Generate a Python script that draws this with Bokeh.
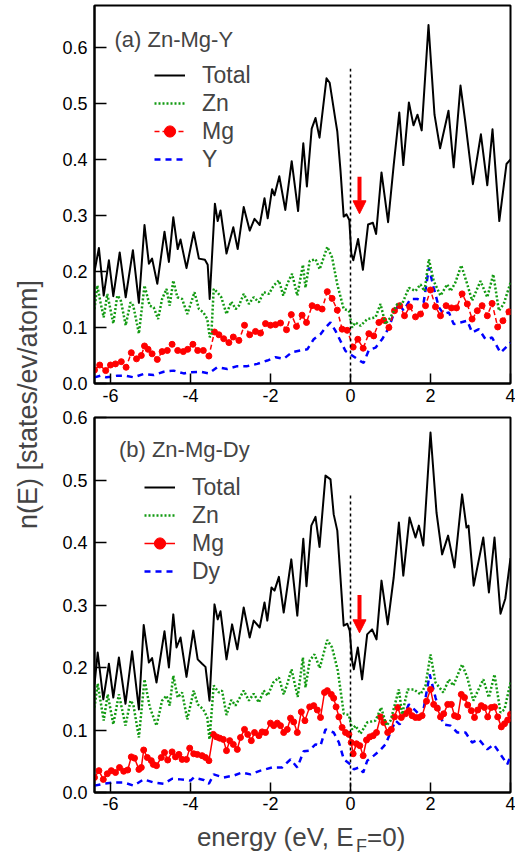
import math
from bokeh.plotting import figure
from bokeh.models import (Range1d, FixedTicker, PrintfTickFormatter, Legend, LegendItem,
                          Label, Arrow, NormalHead)
from bokeh.layouts import row, column
from bokeh.embed import file_html
from bokeh.resources import INLINE

FONT = "Liberation Sans"

# ---------------- data: panel (a) Zn-Mg-Y ----------------
tot_a_e = [-6.40,-6.29,-6.17,-6.04,-5.93,-5.77,-5.62,-5.44,-5.29,-5.15,-5.04,-4.96,-4.83,-4.65,-4.54,-4.43,-4.32,-4.25,-4.10,-3.92,
           -3.79,-3.64,-3.57,-3.52,-3.39,-3.32,-3.25,-3.10,-2.93,-2.82,-2.67,-2.52,-2.40,-2.27,-2.15,-2.07,-1.96,-1.90,-1.78,-1.63,
           -1.47,-1.31,-1.18,-1.09,-0.97,-0.875,-0.775,-0.60,-0.52,-0.375,-0.33,-0.25,-0.17,-0.10,-0.03,0.02,0.07,0.19,0.31,0.44,
           0.56,0.64,0.775,0.94,1.08,1.22,1.32,1.46,1.575,1.675,1.78,1.95,2.10,2.24,2.45,2.58,2.75,2.87,3.06,3.26,
           3.42,3.55,3.72,3.90,4.00]
tot_a_v = [0.200,0.242,0.157,0.220,0.156,0.234,0.154,0.238,0.144,0.283,0.214,0.223,0.178,0.271,0.217,0.297,0.240,0.257,0.206,0.270,
           0.223,0.221,0.212,0.151,0.321,0.290,0.309,0.232,0.279,0.240,0.315,0.273,0.294,0.283,0.331,0.295,0.347,0.336,0.370,0.310,
           0.397,0.308,0.429,0.352,0.455,0.474,0.439,0.545,0.537,0.470,0.450,0.380,0.298,0.302,0.292,0.232,0.220,0.258,0.203,0.284,
           0.287,0.267,0.377,0.288,0.390,0.484,0.390,0.502,0.461,0.480,0.452,0.640,0.480,0.420,0.487,0.386,0.532,0.467,0.356,0.445,
           0.354,0.454,0.290,0.392,0.400]

zn_a_e = [-6.40,-6.33,-6.25,-6.17,-6.08,-5.93,-5.83,-5.75,-5.62,-5.50,-5.43,-5.29,-5.15,-5.02,-4.92,-4.81,-4.71,-4.60,-4.52,-4.43,
          -4.33,-4.21,-4.08,-3.90,-3.79,-3.68,-3.58,-3.52,-3.48,-3.42,-3.33,-3.23,-3.10,-2.98,-2.87,-2.79,-2.67,-2.54,-2.42,-2.29,
          -2.17,-2.04,-1.92,-1.79,-1.68,-1.58,-1.46,-1.33,-1.19,-1.125,-1.02,-0.875,-0.77,-0.58,-0.46,-0.33,-0.17,-0.04,0.04,0.125,
          0.25,0.42,0.625,0.75,0.875,1.00,1.17,1.29,1.46,1.625,1.75,1.85,1.96,2.08,2.25,2.42,2.50,2.62,2.77,2.92,
          3.04,3.25,3.42,3.57,3.71,3.83,4.00]
zn_a_v = [0.133,0.175,0.145,0.118,0.160,0.107,0.157,0.151,0.104,0.145,0.139,0.089,0.175,0.139,0.136,0.115,0.151,0.169,0.139,0.184,
          0.154,0.151,0.124,0.163,0.133,0.127,0.115,0.083,0.086,0.169,0.163,0.154,0.124,0.146,0.133,0.139,0.160,0.142,0.154,0.145,
          0.163,0.160,0.175,0.184,0.157,0.178,0.196,0.157,0.212,0.171,0.219,0.222,0.204,0.244,0.225,0.177,0.133,0.130,0.100,0.109,
          0.103,0.115,0.118,0.142,0.106,0.118,0.142,0.142,0.171,0.165,0.177,0.165,0.222,0.183,0.157,0.177,0.165,0.180,0.211,0.177,
          0.148,0.183,0.154,0.195,0.130,0.142,0.180]

mg_a_e = [-6.40,-6.27,-6.12,-6.00,-5.875,-5.73,-5.61,-5.48,-5.35,-5.23,-5.15,-5.06,-4.96,-4.83,-4.71,-4.58,-4.46,-4.32,-4.18,-4.07,
          -3.94,-3.82,-3.68,-3.54,-3.40,-3.29,-3.17,-3.04,-2.93,-2.79,-2.65,-2.52,-2.375,-2.25,-2.125,-2.00,-1.875,-1.75,-1.60,-1.48,
          -1.35,-1.21,-1.10,-0.96,-0.83,-0.71,-0.58,-0.46,-0.33,-0.21,-0.083,0.067,0.183,0.317,0.458,0.58,0.71,0.83,0.96,1.10,
          1.23,1.35,1.48,1.625,1.75,1.875,2.00,2.125,2.25,2.39,2.525,2.65,2.79,2.92,3.04,3.17,3.29,3.42,3.54,3.68,
          3.81,3.96]
mg_a_v = [0.024,0.033,0.023,0.033,0.035,0.039,0.029,0.055,0.044,0.050,0.067,0.061,0.053,0.043,0.057,0.059,0.070,0.059,0.057,0.061,
          0.070,0.059,0.059,0.049,0.092,0.087,0.080,0.073,0.083,0.077,0.104,0.087,0.093,0.090,0.107,0.104,0.105,0.108,0.096,0.123,
          0.102,0.122,0.109,0.139,0.136,0.133,0.164,0.152,0.131,0.097,0.095,0.065,0.079,0.063,0.089,0.085,0.109,0.113,0.100,0.130,
          0.139,0.121,0.137,0.119,0.124,0.139,0.167,0.137,0.121,0.139,0.135,0.135,0.160,0.142,0.115,0.130,0.139,0.121,0.143,0.101,
          0.112,0.128]

y_a_e = [-6.40,-6.25,-6.10,-5.83,-5.62,-5.42,-5.17,-4.92,-4.67,-4.42,-4.17,-4.00,-3.75,-3.54,-3.33,-3.08,-2.83,-2.58,-2.33,-2.08,
         -1.875,-1.67,-1.46,-1.25,-1.08,-0.92,-0.75,-0.625,-0.50,-0.375,-0.25,-0.125,0.00,0.125,0.25,0.33,0.46,0.625,0.79,0.96,
         1.08,1.21,1.33,1.50,1.67,1.83,1.96,2.08,2.21,2.33,2.46,2.58,2.75,2.92,3.04,3.21,3.375,3.54,3.75,3.92,
         4.00]
y_a_v = [0.011,0.014,0.011,0.014,0.014,0.011,0.017,0.015,0.021,0.023,0.018,0.020,0.021,0.018,0.029,0.026,0.031,0.031,0.035,0.041,
         0.047,0.044,0.056,0.059,0.061,0.079,0.088,0.100,0.109,0.094,0.076,0.058,0.052,0.046,0.040,0.037,0.060,0.064,0.079,0.100,
         0.124,0.142,0.130,0.151,0.151,0.145,0.207,0.171,0.136,0.124,0.127,0.106,0.109,0.112,0.091,0.097,0.079,0.082,0.055,0.067,
         0.073]

# ---------------- data: panel (b) Zn-Mg-Dy ----------------
tot_b_e = [-6.40,-6.32,-6.18,-6.04,-5.93,-5.79,-5.625,-5.46,-5.29,-5.17,-5.04,-4.96,-4.85,-4.65,-4.54,-4.43,-4.35,-4.25,-4.10,-3.93,
           -3.82,-3.71,-3.625,-3.525,-3.40,-3.32,-3.25,-3.10,-2.96,-2.83,-2.67,-2.52,-2.42,-2.27,-2.15,-2.08,-1.975,-1.90,-1.79,-1.67,
           -1.48,-1.33,-1.18,-1.10,-0.98,-0.875,-0.775,-0.625,-0.50,-0.42,-0.33,-0.17,-0.08,-0.02,0.04,0.083,0.183,0.29,0.417,0.54,
           0.65,0.775,0.93,1.08,1.21,1.32,1.475,1.625,1.71,1.82,2.00,2.15,2.29,2.44,2.60,2.79,2.90,2.95,3.08,3.32,
           3.46,3.60,3.75,3.87,4.00]
tot_b_v = [0.173,0.224,0.149,0.206,0.152,0.216,0.142,0.226,0.133,0.268,0.208,0.215,0.176,0.258,0.200,0.285,0.232,0.248,0.185,0.259,
           0.213,0.206,0.201,0.147,0.301,0.277,0.290,0.213,0.269,0.229,0.296,0.248,0.275,0.264,0.304,0.275,0.328,0.323,0.345,0.288,
           0.373,0.283,0.406,0.330,0.427,0.441,0.393,0.507,0.501,0.445,0.419,0.267,0.270,0.259,0.211,0.197,0.232,0.181,0.253,0.261,
           0.245,0.339,0.269,0.344,0.432,0.347,0.440,0.408,0.427,0.395,0.576,0.448,0.381,0.411,0.360,0.477,0.424,0.427,0.331,0.408,
           0.320,0.408,0.286,0.310,0.375]

zn_b_e = [-6.40,-6.32,-6.17,-6.07,-5.93,-5.79,-5.625,-5.50,-5.43,-5.29,-5.15,-5.02,-4.85,-4.71,-4.60,-4.52,-4.43,-4.32,-4.21,-4.08,
          -3.92,-3.82,-3.68,-3.58,-3.525,-3.42,-3.29,-3.21,-3.10,-2.98,-2.875,-2.67,-2.54,-2.42,-2.29,-2.17,-2.07,-1.93,-1.79,-1.67,
          -1.58,-1.475,-1.32,-1.19,-1.125,-1.02,-0.90,-0.77,-0.583,-0.46,-0.317,-0.167,-0.04,0.04,0.125,0.25,0.417,0.625,0.767,0.90,
          1.00,1.21,1.29,1.43,1.58,1.75,1.875,2.00,2.125,2.32,2.46,2.57,2.79,2.92,3.07,3.32,3.46,3.60,3.75,3.85,
          4.00]
zn_b_v = [0.136,0.174,0.115,0.157,0.109,0.157,0.107,0.147,0.141,0.088,0.181,0.137,0.107,0.147,0.155,0.139,0.187,0.152,0.160,0.117,
          0.163,0.141,0.133,0.120,0.085,0.171,0.160,0.163,0.124,0.148,0.139,0.163,0.147,0.158,0.144,0.163,0.155,0.176,0.184,0.157,
          0.174,0.197,0.153,0.216,0.168,0.211,0.221,0.199,0.244,0.232,0.195,0.126,0.124,0.101,0.107,0.094,0.112,0.115,0.136,0.107,
          0.115,0.165,0.125,0.165,0.165,0.157,0.171,0.221,0.176,0.160,0.181,0.171,0.205,0.184,0.147,0.181,0.152,0.189,0.128,0.133,
          0.176]

mg_b_e = [-6.40,-6.29,-6.18,-6.08,-5.98,-5.875,-5.775,-5.67,-5.57,-5.48,-5.40,-5.29,-5.23,-5.17,-5.08,-4.98,-4.93,-4.85,-4.73,-4.65,
          -4.57,-4.46,-4.375,-4.29,-4.21,-4.10,-4.02,-3.92,-3.83,-3.71,-3.625,-3.54,-3.43,-3.35,-3.27,-3.18,-3.10,-3.02,-2.93,-2.83,
          -2.75,-2.65,-2.57,-2.48,-2.40,-2.29,-2.21,-2.125,-2.00,-1.92,-1.83,-1.75,-1.67,-1.58,-1.50,-1.42,-1.33,-1.23,-1.14,-1.02,
          -0.92,-0.83,-0.75,-0.65,-0.58,-0.48,-0.42,-0.36,-0.29,-0.21,-0.125,-0.04,0.017,0.067,0.15,0.233,0.317,0.40,0.483,0.567,
          0.65,0.75,0.83,0.93,1.02,1.10,1.18,1.27,1.375,1.46,1.54,1.625,1.71,1.79,1.90,2.00,2.08,2.17,2.25,2.33,
          2.43,2.52,2.60,2.68,2.77,2.85,2.93,3.02,3.10,3.18,3.27,3.35,3.43,3.52,3.60,3.68,3.77,3.85,3.93,4.00]
mg_b_v = [0.024,0.035,0.021,0.030,0.035,0.032,0.040,0.034,0.036,0.057,0.055,0.037,0.040,0.068,0.056,0.051,0.045,0.043,0.056,0.064,
          0.052,0.065,0.057,0.061,0.053,0.053,0.071,0.062,0.061,0.059,0.056,0.051,0.093,0.089,0.087,0.085,0.067,0.083,0.077,0.069,
          0.088,0.101,0.093,0.083,0.096,0.091,0.097,0.096,0.111,0.107,0.111,0.107,0.096,0.101,0.119,0.113,0.096,0.129,0.115,0.137,
          0.139,0.132,0.120,0.160,0.163,0.157,0.151,0.137,0.121,0.104,0.096,0.093,0.080,0.062,0.078,0.075,0.059,0.084,0.089,0.091,
          0.096,0.121,0.112,0.096,0.101,0.121,0.136,0.120,0.126,0.131,0.123,0.120,0.120,0.123,0.146,0.165,0.141,0.135,0.121,0.126,
          0.141,0.141,0.123,0.121,0.157,0.152,0.140,0.131,0.120,0.132,0.139,0.136,0.121,0.136,0.137,0.121,0.105,0.110,0.116,0.125]

dy_b_e = [-6.40,-6.17,-5.92,-5.67,-5.42,-5.17,-4.92,-4.67,-4.46,-4.25,-4.00,-3.92,-3.67,-3.54,-3.42,-3.17,-2.92,-2.71,-2.50,-2.25,
          -1.96,-1.71,-1.50,-1.33,-1.17,-1.04,-0.875,-0.75,-0.625,-0.42,-0.29,-0.167,0.00,0.083,0.21,0.317,0.42,0.583,0.73,0.875,
          1.00,1.125,1.23,1.46,1.625,1.79,1.98,2.125,2.32,2.50,2.67,2.875,3.04,3.21,3.42,3.58,3.75,3.92,4.00]
dy_b_v = [0.011,0.014,0.016,0.016,0.011,0.021,0.016,0.014,0.022,0.021,0.019,0.024,0.020,0.014,0.029,0.024,0.027,0.032,0.029,0.035,
          0.040,0.040,0.053,0.040,0.066,0.067,0.077,0.075,0.101,0.096,0.080,0.053,0.045,0.037,0.040,0.032,0.051,0.059,0.067,0.077,
          0.096,0.115,0.109,0.141,0.131,0.120,0.189,0.152,0.109,0.107,0.096,0.096,0.080,0.085,0.069,0.077,0.061,0.045,0.059]

# ticks / ranges / annotations
x_ticks = [-6, -4, -2, 0, 2, 4]
y_ticks = [0.0, 0.1, 0.2, 0.3, 0.4, 0.5, 0.6]
x_min, x_max = -6.4, 4.0
fermi_e = 0.0
fermi_top_a, fermi_top_b = 0.562, 0.48
arrow_e = 0.225
arrow_a = (0.369, 0.303)
arrow_b = (0.316, 0.2555)

YLAB_W = 44
PANEL_W = 515 - YLAB_W
MB_L, MB_R = 50, 5


def style_axes(p, x_standoff):
    p.xgrid.visible = False
    p.ygrid.visible = False
    p.outline_line_color = "black"
    p.outline_line_width = 2
    p.outline_line_alpha = 1
    p.background_fill_color = "white"
    p.border_fill_color = "white"
    p.xaxis.ticker = FixedTicker(ticks=x_ticks)
    p.yaxis.ticker = FixedTicker(ticks=y_ticks)
    p.xaxis.formatter = PrintfTickFormatter(format="%d")
    p.yaxis.formatter = PrintfTickFormatter(format="%.1f")
    for ax in (p.xaxis[0], p.yaxis[0]):
        ax.axis_line_width = 2
        ax.axis_line_color = "black"
        ax.major_tick_line_width = 1.5
        ax.major_tick_line_color = "black"
        ax.major_tick_out = 0
        ax.minor_tick_line_color = None
        ax.major_label_text_font = FONT
        ax.major_label_text_font_size = "18px"
        ax.major_label_text_color = "black"
    p.xaxis.major_label_standoff = x_standoff
    p.yaxis.major_label_standoff = 7
    p.xaxis.major_tick_in = 10
    p.yaxis.major_tick_in = 12


def make_panel(height, ymax, mbt, mbb, x_standoff, tot, zn, mg, re, re_name, mg_dash,
               title, title_xy, legend_loc, fermi_top, arrow_y):
    p = figure(width=PANEL_W, height=height, x_range=Range1d(x_min, x_max), y_range=Range1d(0, ymax),
               output_backend="svg", toolbar_location=None,
               min_border_left=MB_L, min_border_right=MB_R, min_border_top=mbt, min_border_bottom=mbb)
    style_axes(p, x_standoff)

    r_re = p.line(re[0], re[1], line_color="blue", line_width=2.5, line_dash="6 5")
    r_mgl = p.line(mg[0], mg[1], line_color="red", line_width=1.5, line_dash=mg_dash)
    r_mgs = p.scatter(mg[0], mg[1], size=6, color="red")
    r_zn = p.line(zn[0], zn[1], line_color="#129a12", line_width=2.5, line_dash="2 2")
    r_tot = p.line(tot[0], tot[1], line_color="black", line_width=2, line_join="round")

    p.segment(x0=[fermi_e], y0=[0], x1=[fermi_e], y1=[fermi_top],
              line_color="black", line_width=1.5, line_dash="3 3")

    p.add_layout(Arrow(end=NormalHead(size=13, fill_color="red", line_color="red"),
                       x_start=arrow_e, y_start=arrow_y[0], x_end=arrow_e, y_end=arrow_y[1],
                       line_color="red", line_width=4))

    legend = Legend(items=[LegendItem(label="Total", renderers=[r_tot]),
                           LegendItem(label="Zn", renderers=[r_zn]),
                           LegendItem(label="Mg", renderers=[r_mgl, r_mgs]),
                           LegendItem(label=re_name, renderers=[r_re])],
                    location=legend_loc, glyph_width=31, glyph_height=28, spacing=0,
                    padding=0, margin=0, label_standoff=17,
                    label_text_font=FONT, label_text_font_size="23px",
                    border_line_color=None, background_fill_alpha=0)
    p.add_layout(legend)

    p.add_layout(Label(x=title_xy[0], y=title_xy[1], text=title, text_font=FONT,
                       text_font_size="22px", text_baseline="middle", text_align="left"))
    return p


top = make_panel(409, 0.675, 5, 26, 5, (tot_a_e, tot_a_v), (zn_a_e, zn_a_v), (mg_a_e, mg_a_v),
                 (y_a_e, y_a_v), "Y", "5 3", "(a) Zn-Mg-Y", (-5.9, 0.614), (60, 210),
                 fermi_top_a, arrow_a)
bottom = make_panel(408, 0.6, 8, 25, 4, (tot_b_e, tot_b_v), (zn_b_e, zn_b_v), (mg_b_e, mg_b_v),
                    (dy_b_e, dy_b_v), "Dy", "solid", "(b) Zn-Mg-Dy", (-5.79, 0.549), (50, 207),
                    fermi_top_b, arrow_b)

# x-axis title (with subscript F) in its own strip below the bottom panel
XLAB_H = 38
xlab = figure(width=PANEL_W, height=XLAB_H, x_range=Range1d(x_min, x_max), y_range=Range1d(0, XLAB_H),
              output_backend="svg", toolbar_location=None,
              min_border_left=MB_L, min_border_right=MB_R, min_border_top=0, min_border_bottom=0,
              x_axis_location=None, y_axis_location=None)
xlab.grid.visible = False
xlab.outline_line_color = None
xlab.add_layout(Label(x=-3.84, y=19, text="energy (eV, E", text_font=FONT,
                      text_font_size="26px", text_baseline="alphabetic", text_align="left"))
xlab.add_layout(Label(x=0.1375, y=10, text="F", text_font=FONT,
                      text_font_size="18px", text_baseline="alphabetic", text_align="left"))
xlab.add_layout(Label(x=0.4125, y=19, text="=0)", text_font=FONT,
                      text_font_size="26px", text_baseline="alphabetic", text_align="left"))

# shared y-axis title
ylab = figure(width=YLAB_W, height=855, x_range=Range1d(0, YLAB_W), y_range=Range1d(0, 1),
              output_backend="svg", toolbar_location=None, min_border=0,
              x_axis_location=None, y_axis_location=None)
ylab.grid.visible = False
ylab.outline_line_color = None
ylab.add_layout(Label(x=27, y=0.5275, text="n(E) [states/ev/atom]", angle=math.pi / 2,
                      text_align="center", text_baseline="middle", text_font=FONT,
                      text_font_size="27px"))

layout = row(ylab, column(top, bottom, xlab))
open("out.html", "w").write(file_html(layout, INLINE))
